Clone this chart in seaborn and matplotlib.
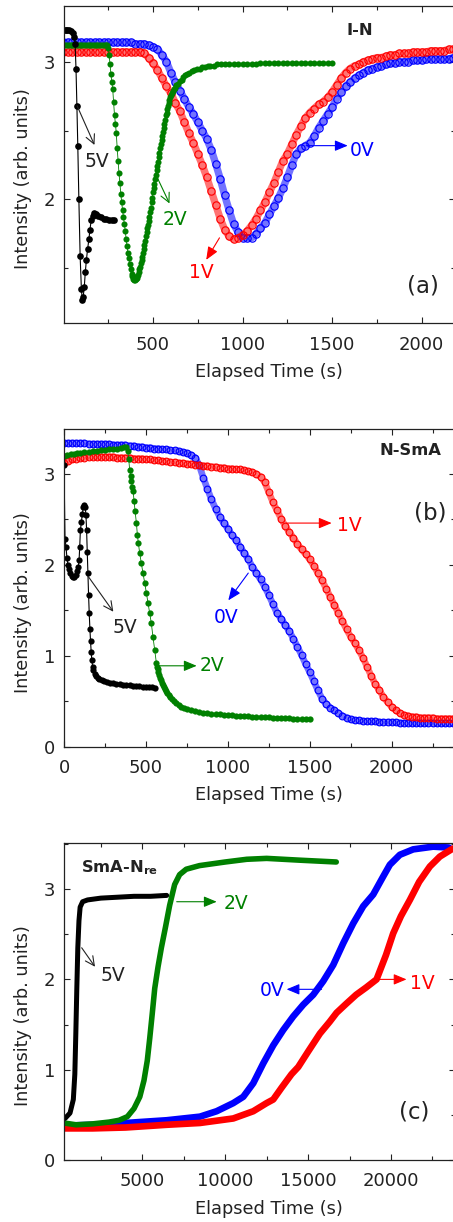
import numpy as np
import matplotlib
matplotlib.use("Agg")
import matplotlib.pyplot as plt
import seaborn as sns
from matplotlib.ticker import MultipleLocator, FormatStrFormatter

sns.set_theme(style="ticks")
plt.rcParams['font.family'] = ['DejaVu Sans']
plt.rcParams['mathtext.fontset'] = 'dejavusans'

BLUE, RED, GREEN, BLACK = '#0000ff', '#ff0000', '#008000', '#000000'

# ---------------- Panel (a): I-N ----------------
t_a = list(range(0, 2176, 25))
blue_a = [3.14, 3.14, 3.14, 3.14, 3.14, 3.14, 3.14, 3.14, 3.14, 3.14,
          3.14, 3.14, 3.14, 3.14, 3.14, 3.14, 3.13, 3.13, 3.13, 3.12,
          3.11, 3.09, 3.05, 3.00, 2.92, 2.85, 2.79, 2.73, 2.67, 2.62,
          2.56, 2.50, 2.44, 2.36, 2.26, 2.15, 2.03, 1.92, 1.82, 1.76,
          1.72, 1.72, 1.72, 1.75, 1.79, 1.83, 1.89, 1.95, 2.01, 2.08,
          2.16, 2.25, 2.33, 2.37, 2.39, 2.41, 2.46, 2.52, 2.57, 2.62,
          2.67, 2.73, 2.78, 2.82, 2.85, 2.88, 2.90, 2.92, 2.94, 2.95,
          2.96, 2.97, 2.98, 2.99, 2.99, 3.00, 3.00, 3.00, 3.01, 3.01,
          3.01, 3.02, 3.02, 3.02, 3.02, 3.02, 3.02, 3.03]
red_a = [3.07, 3.07, 3.07, 3.07, 3.07, 3.07, 3.07, 3.07, 3.07, 3.07,
         3.07, 3.07, 3.07, 3.07, 3.07, 3.07, 3.07, 3.07, 3.06, 3.03,
         2.99, 2.94, 2.88, 2.82, 2.77, 2.70, 2.64, 2.56, 2.48, 2.41,
         2.33, 2.25, 2.16, 2.06, 1.96, 1.86, 1.78, 1.73, 1.71, 1.72,
         1.74, 1.77, 1.81, 1.86, 1.92, 1.98, 2.05, 2.12, 2.20, 2.28,
         2.33, 2.40, 2.47, 2.53, 2.59, 2.63, 2.66, 2.69, 2.71, 2.74,
         2.78, 2.83, 2.88, 2.92, 2.95, 2.97, 2.98, 3.00, 3.01, 3.02,
         3.03, 3.03, 3.04, 3.05, 3.05, 3.06, 3.06, 3.06, 3.07, 3.07,
         3.07, 3.07, 3.08, 3.08, 3.08, 3.08, 3.09, 3.09]
green_a_t = [0, 10, 20, 30, 40, 50, 60, 70, 80, 90, 100, 110, 120, 130, 140,
             150, 160, 170, 180, 190, 200, 210, 220, 230, 240,
             245, 250, 255, 260, 265, 270, 275, 280, 285, 290, 295, 300, 305,
             310, 315, 320, 325, 330, 335, 340, 345, 350, 355, 360, 365, 370,
             375, 380, 385, 390, 395, 400, 404, 408,
             412, 416, 420, 424, 428, 432, 436, 440, 444, 448, 452, 456, 460,
             464, 468, 472, 476, 480, 484, 488, 492, 496, 500, 504, 508, 512,
             516, 520, 524, 528, 532, 536, 540, 544, 548, 552, 556, 560, 564,
             568, 572, 576, 580, 584, 588, 592, 596, 600, 605, 610, 615, 620,
             630, 640, 650, 660, 670, 680, 690, 700, 715, 730, 745, 760,
             775, 790, 805, 820, 840, 860, 880, 900, 925, 950, 975, 1000, 1025,
             1050, 1075, 1100, 1125, 1150, 1175, 1200, 1225, 1250, 1275, 1300,
             1325, 1350, 1375, 1400, 1425, 1450, 1475, 1500]
green_a = [3.12, 3.12, 3.12, 3.12, 3.12, 3.12, 3.12, 3.12, 3.12, 3.12, 3.12,
           3.12, 3.12, 3.12, 3.12, 3.12, 3.12, 3.12, 3.12, 3.12, 3.12, 3.12,
           3.12, 3.12, 3.12,
           3.12, 3.10, 3.05, 2.98, 2.91, 2.85, 2.80, 2.71, 2.61, 2.55, 2.48,
           2.37, 2.28, 2.19, 2.12, 2.04, 1.98, 1.92, 1.87, 1.82, 1.77, 1.71,
           1.66, 1.61, 1.57, 1.53, 1.49, 1.46, 1.44, 1.42, 1.41, 1.41, 1.42,
           1.43,
           1.44, 1.45, 1.47, 1.49, 1.51, 1.54, 1.56, 1.58, 1.61, 1.64, 1.67,
           1.70, 1.73, 1.76, 1.79, 1.81, 1.84, 1.87, 1.91, 1.94, 1.98, 2.01,
           2.05, 2.08, 2.11, 2.15, 2.18, 2.21, 2.24, 2.27, 2.31, 2.34, 2.37,
           2.40, 2.43, 2.46, 2.49, 2.52, 2.55, 2.58, 2.61, 2.63, 2.66, 2.68,
           2.70, 2.72, 2.74, 2.76, 2.77, 2.79, 2.80, 2.81,
           2.83, 2.84, 2.86, 2.87, 2.89, 2.90, 2.91, 2.92, 2.93, 2.94, 2.95,
           2.95, 2.96, 2.96, 2.97, 2.97, 2.97, 2.98, 2.98, 2.98, 2.98, 2.98,
           2.98, 2.98, 2.98, 2.98, 2.98, 2.99, 2.99, 2.99, 2.99, 2.99, 2.99,
           2.99, 2.99, 2.99, 2.99, 2.99, 2.99, 2.99, 2.99, 2.99, 2.99, 2.99]
black_a_t = [3, 12, 22, 32, 42, 52, 60, 65, 70, 75, 80, 86, 93, 100, 105, 110,
             116, 122, 128, 135, 142, 148, 155, 163, 172, 183, 195, 210, 225,
             240, 255, 270, 280]
black_a = [3.23, 3.23, 3.23, 3.23, 3.22, 3.21, 3.18, 3.13, 2.95, 2.68, 2.39,
           2.00, 1.59, 1.35, 1.27, 1.29, 1.36, 1.47, 1.56, 1.64, 1.71, 1.78,
           1.85, 1.88, 1.90, 1.89, 1.88, 1.87, 1.86, 1.86, 1.85, 1.85, 1.85]

# ---------------- Panel (b): N-SmA ----------------
t_b = list(range(0, 2376, 25))
blue_b = [3.34, 3.34, 3.34, 3.34, 3.34, 3.34, 3.33, 3.33, 3.33, 3.33,
          3.33, 3.33, 3.32, 3.32, 3.32, 3.32, 3.31, 3.31, 3.30, 3.30,
          3.29, 3.29, 3.28, 3.28, 3.27, 3.27, 3.26, 3.26, 3.25, 3.24,
          3.23, 3.21, 3.18, 3.10, 2.96, 2.84, 2.72, 2.62, 2.53, 2.46,
          2.40, 2.33, 2.27, 2.20, 2.13, 2.06, 1.98, 1.91, 1.84, 1.76,
          1.67, 1.57, 1.47, 1.41, 1.34, 1.27, 1.19, 1.10, 1.01, 0.91,
          0.82, 0.72, 0.62, 0.53, 0.47, 0.43, 0.40, 0.37, 0.34, 0.32,
          0.30, 0.29, 0.29, 0.28, 0.28, 0.28, 0.28, 0.27, 0.27, 0.27,
          0.27, 0.27, 0.26, 0.26, 0.26, 0.26, 0.26, 0.26, 0.26, 0.26,
          0.26, 0.26, 0.26, 0.26, 0.26, 0.26]
red_b = [3.12, 3.14, 3.16, 3.17, 3.18, 3.18, 3.19, 3.19, 3.19, 3.19,
         3.19, 3.19, 3.19, 3.18, 3.18, 3.18, 3.18, 3.17, 3.17, 3.17,
         3.16, 3.16, 3.15, 3.15, 3.14, 3.14, 3.13, 3.13, 3.12, 3.12,
         3.11, 3.11, 3.10, 3.10, 3.09, 3.09, 3.08, 3.08, 3.07, 3.07,
         3.06, 3.06, 3.05, 3.05, 3.04, 3.03, 3.02, 3.00, 2.97, 2.91,
         2.80, 2.69, 2.60, 2.51, 2.43, 2.36, 2.30, 2.23, 2.17, 2.12,
         2.06, 1.99, 1.91, 1.83, 1.74, 1.65, 1.56, 1.47, 1.38, 1.29,
         1.21, 1.14, 1.06, 0.98, 0.88, 0.78, 0.69, 0.62, 0.55, 0.49,
         0.44, 0.40, 0.37, 0.35, 0.34, 0.33, 0.33, 0.32, 0.32, 0.32,
         0.32, 0.31, 0.31, 0.31, 0.31, 0.31]
green_b_t = [0, 20, 40, 60, 80, 100, 125, 150, 175, 200, 225, 250, 275, 300,
             325, 350, 365, 380, 388, 395, 401, 407, 412, 417, 422, 428, 434,
             442, 448, 454, 462, 472, 482, 493, 503, 513, 523, 533, 543, 554,
             564, 568, 572, 576, 580, 585, 590, 596, 602, 608, 615, 622, 630,
             640, 650, 660, 672, 685, 700, 715, 730, 750, 775,
             800, 825, 850, 875, 900, 925, 950, 975, 1000, 1025, 1050, 1075,
             1100, 1125, 1150, 1175, 1200, 1225, 1250, 1275, 1300, 1325, 1350,
             1375, 1400, 1425, 1450, 1475, 1500]
green_b = [3.20, 3.21, 3.22, 3.22, 3.23, 3.23, 3.24, 3.24, 3.25, 3.25, 3.26,
           3.26, 3.27, 3.27, 3.28, 3.29, 3.30, 3.30, 3.25, 3.17, 3.04, 2.98,
           2.92, 2.86, 2.81, 2.70, 2.59, 2.46, 2.33, 2.24, 2.13, 2.02, 1.91,
           1.80, 1.69, 1.58, 1.47, 1.36, 1.21, 1.06,
           0.92, 0.88, 0.85, 0.82, 0.79, 0.76, 0.73, 0.70, 0.68, 0.66, 0.64,
           0.61, 0.59, 0.57, 0.55, 0.52, 0.50, 0.48, 0.46, 0.44, 0.43, 0.41,
           0.40,
           0.39, 0.38, 0.37, 0.37, 0.36, 0.36, 0.36, 0.35, 0.35, 0.35, 0.34,
           0.34, 0.34, 0.34, 0.33, 0.33, 0.33, 0.33, 0.33, 0.32, 0.32, 0.32,
           0.32, 0.32, 0.31, 0.31, 0.31, 0.31, 0.31]
black_b_t = [0, 6, 12, 18, 24, 30, 38, 46, 55, 64, 73, 80, 87, 92, 96, 100,
             106, 112, 118, 124, 129, 134, 138, 142, 146, 150, 154, 158, 162,
             166, 170, 175, 180, 187, 195, 205, 215, 230, 245, 260, 280, 300,
             320, 340, 360, 380, 400, 420, 440, 460, 480, 500, 520, 540, 555]
black_b = [3.10, 2.29, 2.20, 2.08, 2.00, 1.95, 1.91, 1.88, 1.87, 1.87, 1.89,
           1.93, 1.98, 2.05, 2.20, 2.38, 2.47, 2.56, 2.64, 2.66, 2.64, 2.55,
           2.38, 2.14, 1.91, 1.67, 1.47, 1.30, 1.16, 1.04, 0.95, 0.88, 0.84,
           0.80, 0.78, 0.76, 0.75, 0.73, 0.72, 0.71, 0.70, 0.70, 0.69, 0.69,
           0.68, 0.68, 0.68, 0.67, 0.67, 0.67, 0.66, 0.66, 0.66, 0.66, 0.65]

# ---------------- Panel (c): SmA-Nre ----------------
blue_c_t = [277, 2000, 4000, 6467, 8477, 9482, 10487, 11090, 11693, 12296,
            12899, 13502, 14105, 14708, 15311, 15914, 16517, 17120, 17723,
            18326, 18929, 19532, 19934, 20537, 21341, 22547, 23500]
blue_c = [0.38, 0.39, 0.41, 0.44, 0.48, 0.54, 0.63, 0.70, 0.85, 1.07, 1.27,
          1.44, 1.59, 1.72, 1.83, 1.98, 2.16, 2.40, 2.62, 2.81, 2.94, 3.14,
          3.27, 3.38, 3.44, 3.47, 3.46]
red_c_t = [277, 2000, 4000, 6467, 8477, 10487, 11693, 12497, 12899, 13400,
           14000, 14407, 15000, 15713, 16300, 16718, 17300, 17900, 18500,
           19130, 19700, 20135, 20600, 21140, 21700, 22346, 22949, 23653, 23900]
red_c = [0.35, 0.35, 0.36, 0.39, 0.41, 0.46, 0.54, 0.63, 0.67, 0.80, 0.95,
         1.03, 1.20, 1.40, 1.53, 1.63, 1.73, 1.83, 1.91, 2.00, 2.27, 2.51,
         2.70, 2.88, 3.08, 3.25, 3.36, 3.44, 3.46]
green_c_t = [277, 1000, 2000, 3000, 3600, 4100, 4500, 4850, 5100, 5300, 5450,
             5600, 5750, 5950, 6150, 6400, 6650, 6950, 7250, 7650, 8450,
             10000, 11300, 12500, 14500, 16700]
green_c = [0.41, 0.39, 0.40, 0.42, 0.44, 0.48, 0.57, 0.70, 0.88, 1.10, 1.35,
           1.62, 1.90, 2.14, 2.35, 2.58, 2.82, 3.05, 3.16, 3.22, 3.26, 3.30,
           3.33, 3.34, 3.32, 3.30]
black_c_t = [337, 640, 840, 930, 990, 1050, 1110, 1180, 1250, 1400, 1700,
             2500, 3500, 4500, 5500, 6470]
black_c = [0.46, 0.52, 0.67, 0.95, 1.40, 1.90, 2.35, 2.65, 2.80, 2.86, 2.88,
           2.90, 2.91, 2.92, 2.92, 2.93]

# ---------------- figure ----------------
fig = plt.figure(figsize=(4.53, 12.22), dpi=100)
L, W = 64 / 453, 391 / 453
ax_a = fig.add_axes([L, 1 - 323 / 1222, W, 317 / 1222])
ax_b = fig.add_axes([L, 1 - 746.7 / 1222, W, 317.7 / 1222])
ax_c = fig.add_axes([L, 1 - 1160 / 1222, W, 316.7 / 1222])


def hollow(ax, x, y, c, ms):
    # tinted band under the rings, mimicking the densely overlapping open circles
    sns.lineplot(x=x, y=y, ax=ax, sort=False, estimator=None, color=c,
                 lw=ms * 1.0, alpha=0.55, solid_capstyle='round',
                 solid_joinstyle='round')
    sns.lineplot(x=x, y=y, ax=ax, sort=False, estimator=None, color=c,
                 linestyle='none', marker='o', markersize=ms,
                 markerfacecolor='none', markeredgecolor=c, markeredgewidth=0.85)


def filled(ax, x, y, c, ms, lw=0.6):
    sns.lineplot(x=x, y=y, ax=ax, sort=False, estimator=None, color=c, lw=lw,
                 marker='o', markersize=ms, markerfacecolor=c,
                 markeredgecolor=c, markeredgewidth=0)


def thick(ax, x, y, c, lw):
    sns.lineplot(x=x, y=y, ax=ax, sort=False, estimator=None, color=c, lw=lw,
                 solid_capstyle='round', solid_joinstyle='round')


# (a)
hollow(ax_a, t_a, blue_a, BLUE, 5.3)
hollow(ax_a, t_a, red_a, RED, 5.3)
filled(ax_a, green_a_t, green_a, GREEN, 4.4)
filled(ax_a, black_a_t, black_a, BLACK, 4.8, lw=0.8)
# (b)
hollow(ax_b, t_b, blue_b, BLUE, 4.8)
hollow(ax_b, t_b, red_b, RED, 4.8)
filled(ax_b, green_b_t, green_b, GREEN, 4.5)
filled(ax_b, black_b_t, black_b, BLACK, 4.5, lw=0.8)
# (c)
thick(ax_c, blue_c_t, blue_c, BLUE, 4.8)
thick(ax_c, red_c_t, red_c, RED, 4.8)
thick(ax_c, green_c_t, green_c, GREEN, 4.0)
thick(ax_c, black_c_t, black_c, BLACK, 3.6)

ax_a.set_xlim(3, 2186)
ax_a.set_ylim(1.101, 3.405)
ax_b.set_xlim(0, 2387)
ax_b.set_ylim(0, 3.495)
ax_c.set_xlim(277, 23862)
ax_c.set_ylim(0, 3.507)

for ax, xmaj in ((ax_a, 500), (ax_b, 500), (ax_c, 5000)):
    ax.xaxis.set_major_locator(MultipleLocator(xmaj))
    ax.xaxis.set_minor_locator(MultipleLocator(xmaj / 2))
    ax.yaxis.set_major_locator(MultipleLocator(1))
    ax.yaxis.set_minor_locator(MultipleLocator(0.5))
    ax.yaxis.set_major_formatter(FormatStrFormatter('%d'))
    ax.xaxis.set_major_formatter(FormatStrFormatter('%d'))
    ax.tick_params(which='both', direction='in', top=True, right=True,
                   width=0.8, color='#222222', labelcolor='#222222')
    ax.tick_params(which='major', length=4.5)
    ax.tick_params(which='minor', length=2.6)
    ax.tick_params(axis='x', which='major', pad=9, labelsize=13)
    ax.tick_params(axis='y', which='major', pad=6.5, labelsize=13)
    for s in ax.spines.values():
        s.set_linewidth(0.9)
        s.set_color('#222222')
    ax.set_xlabel('Elapsed Time (s)', fontsize=12.8, color='#222222')
    ax.set_ylabel('Intensity (arb. units)', fontsize=12.8, color='#222222')
    ax.xaxis.set_label_coords(0.524, -0.125)
    ax.yaxis.set_label_coords(-0.0806, 0.455)
    ax.set_facecolor('white')


def arrow(ax, start, end, c, style='-|>,head_length=0.6,head_width=0.25'):
    ax.annotate('', xy=end, xytext=start,
                arrowprops=dict(arrowstyle=style, color=c, lw=0.8,
                                mutation_scale=13, shrinkA=0, shrinkB=0))


def vlab(ax, x, y, s, c):
    ax.text(x, y, s, color=c, fontsize=13.5, ha='center', va='center_baseline')


OPEN = '->,head_length=0.5,head_width=0.25'
# (a) labels
arrow(ax_a, (76, 2.68), (173, 2.395), '#222222', OPEN)
vlab(ax_a, 187, 2.29, '5V', '#222222')
arrow(ax_a, (521, 2.165), (592, 1.97), GREEN, OPEN)
vlab(ax_a, 624, 1.87, '2V', GREEN)
arrow(ax_a, (871, 1.72), (797, 1.56), RED)
vlab(ax_a, 769, 1.48, '1V', RED)
arrow(ax_a, (1355, 2.39), (1587, 2.39), BLUE)
vlab(ax_a, 1666, 2.37, '0V', BLUE)
ax_a.text(0.757, 0.9085, 'I-N', transform=ax_a.transAxes, fontsize=11.8,
          fontweight='bold', ha='center', va='baseline', color='#222222')
ax_a.text(0.917, 0.0956, '(a)', transform=ax_a.transAxes, fontsize=16.5,
          ha='center', va='baseline', color='#222222')

# (b) labels
arrow(ax_b, (149, 1.87), (301, 1.485), '#222222', OPEN)
vlab(ax_b, 372, 1.33, '5V', '#222222')
arrow(ax_b, (1125, 1.91), (1003, 1.61), BLUE)
vlab(ax_b, 987, 1.44, '0V', BLUE)
arrow(ax_b, (1359, 2.46), (1634, 2.46), RED)
vlab(ax_b, 1740, 2.46, '1V', RED)
arrow(ax_b, (566, 0.89), (810, 0.89), GREEN)
vlab(ax_b, 905, 0.92, '2V', GREEN)
ax_b.text(0.885, 0.918, 'N-SmA', transform=ax_b.transAxes, fontsize=11.8,
          fontweight='bold', ha='center', va='baseline', color='#222222')
ax_b.text(0.936, 0.7136, '(b)', transform=ax_b.transAxes, fontsize=16.5,
          ha='center', va='baseline', color='#222222')

# (c) labels
arrow(ax_c, (1344, 2.35), (2147, 2.14), '#222222', OPEN)
vlab(ax_c, 3251, 2.07, '5V', '#222222')
arrow(ax_c, (7075, 2.86), (9488, 2.86), GREEN)
vlab(ax_c, 10640, 2.86, '2V', GREEN)
arrow(ax_c, (15814, 1.89), (13703, 1.89), BLUE)
vlab(ax_c, 12839, 1.90, '0V', BLUE)
arrow(ax_c, (19130, 2.0), (20939, 2.0), RED)
vlab(ax_c, 21904, 1.98, '1V', RED)
ax_c.text(0.0427, 0.910, r'SmA-N$_{\mathbf{re}}$', transform=ax_c.transAxes,
          fontsize=11.8, fontweight='bold', ha='left', va='baseline',
          color='#222222')
ax_c.text(0.8956, 0.1317, '(c)', transform=ax_c.transAxes, fontsize=16.5,
          ha='center', va='baseline', color='#222222')

fig.savefig('out.png', dpi=100, facecolor='white')
